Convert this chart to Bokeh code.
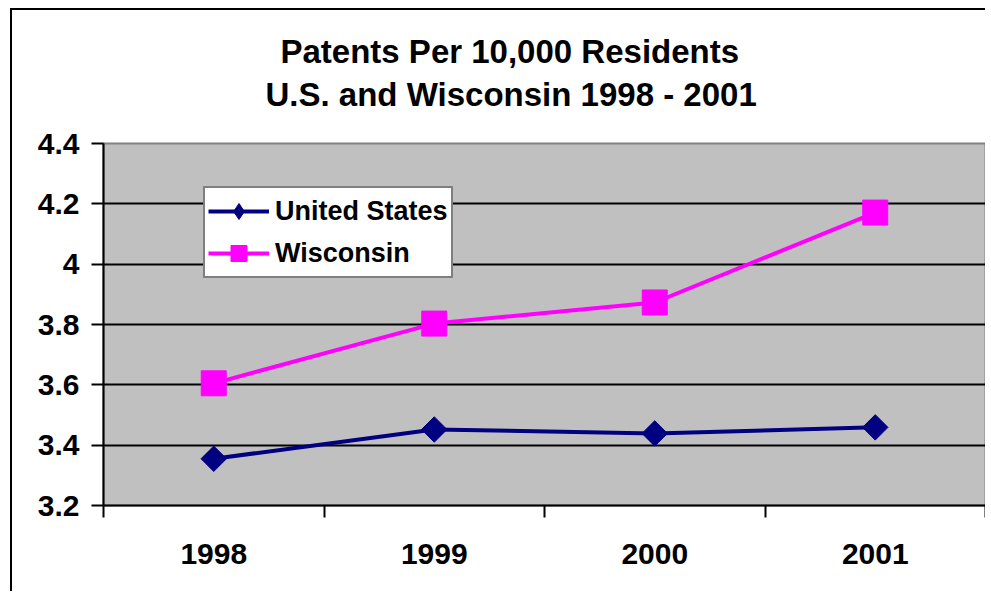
import math
from bokeh.plotting import figure
from bokeh.models import FixedTicker, Legend, Title
from bokeh.embed import file_html
from bokeh.resources import INLINE

# ---- data ----
years = ["1998", "1999", "2000", "2001"]
us_values = [3.355, 3.452, 3.439, 3.459]
wi_values = [3.605, 3.803, 3.873, 4.171]
y_ticks = [3.2, 3.4, 3.6, 3.8, 4.0, 4.2, 4.4]
y_tick_labels = ["3.2", "3.4", "3.6", "3.8", "4", "4.2", "4.4"]
title_lines = ["Patents Per 10,000 Residents", "U.S. and Wisconsin 1998 - 2001"]

FONT = "Liberation Sans"
xs = list(range(len(years)))

p = figure(
    width=975, height=583,
    x_range=(-0.5, len(years) - 0.5), y_range=(y_ticks[0], y_ticks[-1]),
    output_backend="svg", toolbar_location=None,
    min_border_left=91, min_border_right=2, min_border_top=133, min_border_bottom=88,
)
p.styles = {"margin-left": "10px", "margin-top": "8px",
            "border-left": "2px solid black", "border-top": "2px solid black"}

p.background_fill_color = "#C0C0C0"
p.border_fill_color = "white"
p.outline_line_color = "#808080"
p.outline_line_width = 2

# y axis
ya = p.yaxis[0]
ya.ticker = FixedTicker(ticks=y_ticks)
ya.major_label_overrides = {t: l for t, l in zip(y_ticks, y_tick_labels)}
ya.axis_line_color = "black"
ya.axis_line_width = 2
ya.major_tick_out = 12
ya.major_tick_in = 0
ya.major_tick_line_color = "black"
ya.major_tick_line_width = 2
ya.minor_tick_line_color = None
ya.major_label_standoff = 12
ya.major_label_text_font = FONT
ya.major_label_text_font_style = "bold"
ya.major_label_text_font_size = "30px"
ya.major_label_text_color = "black"

# x axis: labels at category centres, ticks between categories
xa = p.xaxis[0]
xa.ticker = FixedTicker(ticks=xs, minor_ticks=[i - 0.5 for i in range(len(years) + 1)])
xa.major_label_overrides = {i: y for i, y in zip(xs, years)}
xa.axis_line_color = "black"
xa.axis_line_width = 2
xa.major_tick_out = 0
xa.major_tick_in = 0
xa.major_tick_line_color = None
xa.minor_tick_out = 12
xa.minor_tick_in = 0
xa.minor_tick_line_color = "black"
xa.minor_tick_line_width = 2
xa.major_label_standoff = 26
xa.major_label_text_font = FONT
xa.major_label_text_font_style = "bold"
xa.major_label_text_font_size = "30px"
xa.major_label_text_color = "black"

# grid
p.xgrid.visible = False
p.ygrid[0].ticker = FixedTicker(ticks=y_ticks[1:-1])
p.ygrid.grid_line_color = "black"
p.ygrid.grid_line_width = 2

# series
l1 = p.line(xs, us_values, line_color="#000080", line_width=4)
m1 = p.scatter(xs, us_values, marker="square", angle=math.pi / 4, size=18,
               fill_color="#000080", line_color="#000080")
# legend-only diamond marker (not drawn in the plot)
d1 = p.scatter(xs, us_values, marker="diamond", size=20,
               fill_color="#000080", line_color="#000080", visible=False)
l2 = p.line(xs, wi_values, line_color="#FF00FF", line_width=4)
m2 = p.scatter(xs, wi_values, marker="square", size=25,
               fill_color="#FF00FF", line_color="#FF00FF")

legend = Legend(
    items=[("United States", [l1, d1]), ("Wisconsin", [l2, m2])],
    location=(100, 227),
    label_text_font=FONT, label_text_font_style="bold", label_text_font_size="27px",
    label_text_color="black",
    border_line_color="black", border_line_width=2,
    background_fill_color="white", background_fill_alpha=1.0,
    glyph_width=61, glyph_height=40, label_height=40, label_standoff=6,
    spacing=2, padding=3, margin=0,
)
p.add_layout(legend, "center")

# title (two lines): later-added titles sit closer to the frame
p.title.text = title_lines[0]
p.title.align = "left"
p.title.offset = 177
p.title.standoff = -54
p.title.text_font = FONT
p.title.text_font_style = "bold"
p.title.text_font_size = "33px"
p.title.text_color = "black"
p.add_layout(Title(text=title_lines[1], align="left", offset=162, standoff=62,
                   text_font=FONT, text_font_style="bold", text_font_size="33px",
                   text_color="black"), "above")

open("out.html", "w").write(file_html(p, INLINE))
